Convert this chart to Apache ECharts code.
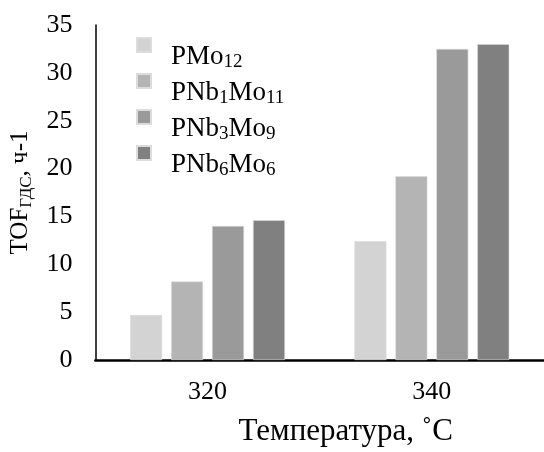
<!DOCTYPE html>
<html>
<head>
<meta charset="utf-8">
<script src="https://cdn.jsdelivr.net/npm/echarts@6/dist/echarts.min.js"></script>
<style>html,body{margin:0;padding:0;background:#fff}#c{width:544px;height:452px}</style>
</head>
<body>
<div id="c"></div>
<script>
var categories = ['320', '340'];
var seriesNames = ['PMo12', 'PNb1Mo11', 'PNb3Mo9', 'PNb6Mo6'];
var seriesLabelParts = [['PMo', '12'], ['PNb', '1', 'Mo', '11'], ['PNb', '3', 'Mo', '9'], ['PNb', '6', 'Mo', '6']];
var valuesPMo12 = [4.7, 12.4];
var valuesPNb1Mo11 = [8.2, 19.2];
var valuesPNb3Mo9 = [14.0, 32.5];
var valuesPNb6Mo6 = [14.6, 33.0];
var yTicks = [0, 5, 10, 15, 20, 25, 30, 35];
var colors = ['#d3d3d3', '#b4b4b4', '#9a9a9a', '#808080'];

var FONT = "'Liberation Serif', 'Times New Roman', serif";
var allValues = [valuesPMo12, valuesPNb1Mo11, valuesPNb3Mo9, valuesPNb6Mo6];

var chart = echarts.init(document.getElementById('c'));
var labelMap = {};
seriesNames.forEach(function (n, i) {
  var p = seriesLabelParts[i], s = '';
  for (var k = 0; k < p.length; k++) s += (k % 2 === 0 ? '{b|' : '{s|') + p[k] + '}';
  labelMap[n] = s;
});

chart.setOption({
  animation: false,
  backgroundColor: '#fff',
  grid: { left: 92, right: -3, top: 25, bottom: 83, containLabel: false },
  legend: {
    orient: 'vertical',
    left: 131, top: 32,
    icon: 'rect',
    itemWidth: 14, itemHeight: 14,
    itemGap: 1,
    data: seriesNames,
    formatter: function (n) { return labelMap[n]; },
    textStyle: {
      fontFamily: FONT, color: '#000',
      padding: [24, 0, 0, 15],
      rich: {
        b: { fontFamily: FONT, fontSize: 27, color: '#000', lineHeight: 30 },
        s: { fontFamily: FONT, fontSize: 19, color: '#000', lineHeight: 4, verticalAlign: 'bottom' }
      }
    }
  },
  xAxis: {
    type: 'category',
    data: categories,
    axisLine: { lineStyle: { color: '#000', width: 2.5 } },
    axisTick: { show: false },
    axisLabel: { fontFamily: FONT, fontSize: 26, color: '#000', margin: 19 },
    name: 'Температура, ˚C',
    nameLocation: 'middle',
    nameGap: 56,
    nameTextStyle: { fontFamily: FONT, fontSize: 31, color: '#000', padding: [0, 0, 0, 52] }
  },
  yAxis: {
    type: 'value',
    min: yTicks[0], max: yTicks[yTicks.length - 1], interval: yTicks[1] - yTicks[0],
    axisLine: { show: true, lineStyle: { color: '#000', width: 1.5 } },
    axisTick: { show: false },
    splitLine: { show: false },
    axisLabel: { fontFamily: FONT, fontSize: 26, color: '#000', margin: 23 },
    name: '{b|TOF}{s|ГДС}{b|, ч-1}',
    nameLocation: 'middle',
    nameGap: 55,
    nameRotate: 90,
    nameTextStyle: {
      rich: {
        b: { fontFamily: FONT, fontSize: 25, color: '#000', lineHeight: 30 },
        s: { fontFamily: FONT, fontSize: 17, color: '#000', lineHeight: 4, verticalAlign: 'bottom' }
      }
    }
  },
  series: seriesNames.map(function (n, i) {
    return {
      name: n, type: 'bar',
      data: allValues[i],
      barWidth: 32, barGap: '28%',
      itemStyle: { color: colors[i], borderColor: '#dcdcdc', borderWidth: 0.6 }
    };
  })
});
</script>
</body>
</html>
